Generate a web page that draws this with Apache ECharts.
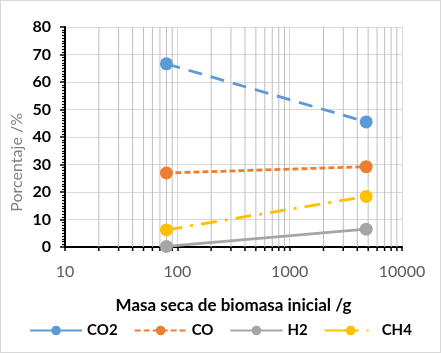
<!DOCTYPE html>
<html>
<head>
<meta charset="utf-8">
<script src="https://cdn.jsdelivr.net/npm/echarts@6/dist/echarts.min.js"></script>
<style>
  html, body { margin: 0; padding: 0; background: #fff; }
  #chart { width: 441px; height: 353px; box-sizing: border-box; border: 1px solid #d9d9d9; }
</style>
</head>
<body>
<div id="chart"></div>
<script>
// data
const masa = [80, 4800];
const co2 = [66.6, 45.5];
const co = [26.9, 29.2];
const h2 = [0.2, 6.5];
const ch4 = [6.2, 18.4];
const minorX = [20, 30, 40, 50, 60, 70, 80, 90, 200, 300, 400, 500, 600, 700, 800, 900,
    2000, 3000, 4000, 5000, 6000, 7000, 8000, 9000];

const font = 'Lato, "Open Sans", sans-serif';
const chart = echarts.init(document.getElementById('chart'));

function pairs(ys) {
    return masa.map((x, i) => [x, ys[i]]);
}

function lineSeries(name, ys, color, dash, width) {
    return {
        name: name,
        type: 'line',
        data: pairs(ys),
        symbol: 'circle',
        symbolSize: 13,
        itemStyle: { color: color },
        lineStyle: { color: color, width: width || 2.8, type: dash, cap: 'butt' },
        z: 5
    };
}

const option = {
    animation: false,
    grid: { left: 64, right: 38, top: 26, bottom: 105 },
    // y axis title placed by hand (Excel centres it a bit lower than echarts)
    graphic: [{
        type: 'text',
        left: 8,
        top: 112,
        rotation: Math.PI / 2,
        style: { text: 'Porcentaje /%', fill: '#7f7f7f', fontSize: 16, fontFamily: font }
    }],
    xAxis: {
        type: 'log',
        logBase: 10,
        min: 10,
        max: 10000,
        name: 'Masa seca de biomasa inicial /g',
        nameLocation: 'middle',
        nameGap: 50,
        nameTextStyle: { color: '#000', fontWeight: 'bold', fontSize: 17, fontFamily: font },
        axisLine: { lineStyle: { color: '#000', width: 2 } },
        axisTick: { show: true, length: 4, lineStyle: { color: '#000', width: 1.5 } },
        axisLabel: {
            color: '#595959', fontSize: 16, margin: 17, fontFamily: font,
            formatter: v => String(Math.round(v))
        },
        splitLine: { show: true, lineStyle: { color: '#d9d9d9', width: 1 } }
    },
    yAxis: {
        type: 'value',
        min: 0,
        max: 80,
        interval: 10,
        axisLine: { show: true, lineStyle: { color: '#000', width: 2 } },
        axisTick: { show: true, length: 5, lineStyle: { color: '#000', width: 1.5 } },
        minorTick: { show: true, splitNumber: 10, length: 3, lineStyle: { color: '#000', width: 1.2 } },
        axisLabel: { color: '#000', fontWeight: 'bold', fontSize: 16, margin: 14, fontFamily: font },
        splitLine: { show: true, lineStyle: { color: '#d9d9d9', width: 1 } }
    },
    legend: {
        bottom: 9,
        left: 'center',
        itemWidth: 52,
        itemHeight: 12,
        itemGap: 16,
        textStyle: { color: '#000', fontWeight: 'bold', fontSize: 15, fontFamily: font },
        // legend keys look like Excel's (short samples of the dash)
        data: [
            { name: 'CO2', lineStyle: { type: 'solid' } },
            { name: 'CO' },
            { name: 'H2' },
            { name: 'CH4', lineStyle: { type: [34, 8, 2, 8] } }
        ]
    },
    series: [
        {
            // minor log grid lines and ticks (2..9 of each decade)
            type: 'custom',
            silent: true,
            z: 1,
            data: minorX.map(v => [v, 0]),
            encode: { x: 0, y: 1 },
            renderItem: function (params, api) {
                const bottom = api.coord([api.value(0), 0]);
                const top = api.coord([api.value(0), 80]);
                return {
                    type: 'group',
                    children: [
                        {
                            type: 'line',
                            shape: { x1: bottom[0], y1: top[1], x2: bottom[0], y2: bottom[1] },
                            style: { stroke: '#bfbfbf', lineWidth: 1 }
                        },
                        {
                            type: 'line',
                            shape: { x1: bottom[0], y1: bottom[1], x2: bottom[0], y2: bottom[1] + 4 },
                            style: { stroke: '#000', lineWidth: 1.5 }
                        }
                    ]
                };
            }
        },
        lineSeries('CO2', co2, '#5b9bd5', [14, 9]),
        lineSeries('CO', co, '#ed7d31', [6, 3]),
        lineSeries('H2', h2, '#a5a5a5', 'solid'),
        lineSeries('CH4', ch4, '#ffc000', [16, 8, 3, 8])
    ]
};

chart.setOption(option);
</script>
</body>
</html>
